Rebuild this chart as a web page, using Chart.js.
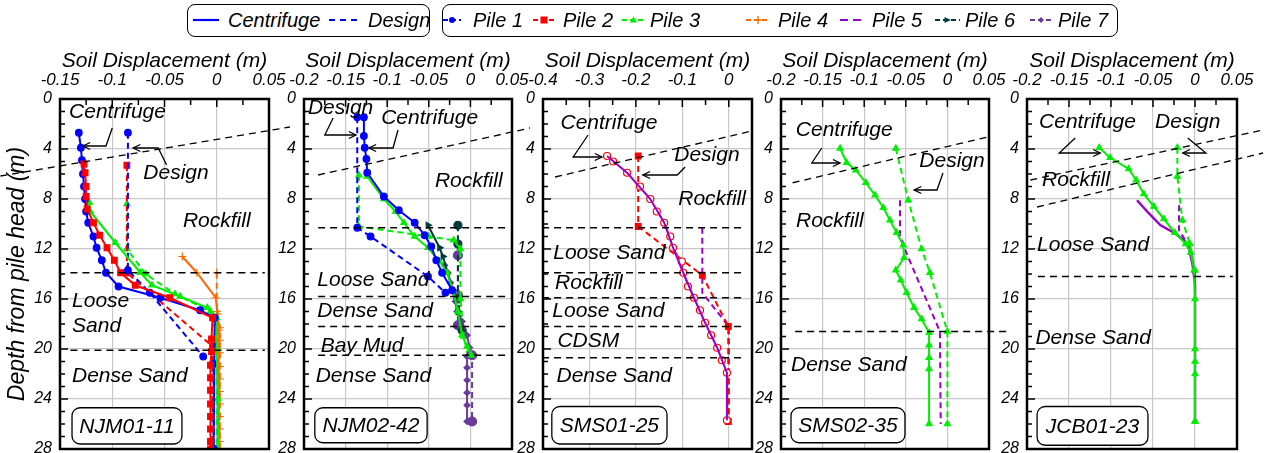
<!DOCTYPE html>
<html><head><meta charset="utf-8">
<script src="https://cdn.jsdelivr.net/npm/chart.js@4.4.1/dist/chart.umd.min.js"></script>
<style>
html,body{margin:0;padding:0;background:#fff;width:1265px;height:453px;overflow:hidden;position:relative;font-family:'Liberation Sans',Arial,sans-serif;}
.panel{position:absolute;top:40px;}
.lg{position:absolute;top:4px;height:33px;border:1.3px solid #000;border-radius:8px;box-sizing:border-box;}
.lt{position:absolute;top:8px;font:italic 20px 'Liberation Sans',Arial,sans-serif;line-height:24px;white-space:nowrap;color:#000;}
svg.ls{position:absolute;top:14px;overflow:visible;}
</style></head><body>
<script>
// ---------------- DATA ----------------
const pileNames = ['Pile 1','Pile 2','Pile 3','Pile 4','Pile 5','Pile 6','Pile 7'];
const panelNames = ['NJM01-11','NJM02-42','SMS01-25','SMS02-35','JCB01-23'];
const yTicks = [0,4,8,12,16,20,24,28];
const xTicksNJM01 = [-0.15,-0.1,-0.05,0,0.05];
const xTicksNJM02 = [-0.2,-0.15,-0.1,-0.05,0,0.05];
const xTicksSMS01 = [-0.4,-0.3,-0.2,-0.1,0];
const xTicksSMS02 = [-0.2,-0.15,-0.1,-0.05,0,0.05];
const xTicksJCB01 = [-0.2,-0.15,-0.1,-0.05,0,0.05];
const xRangeSMS01 = [-0.4,0.05];

// [soil displacement (m), depth (m)]
const NJM01_P1_CEN = [[-0.132,2.7],[-0.130,3.9],[-0.129,4.9],[-0.128,6.0],[-0.127,7.0],[-0.126,8.0],[-0.125,9.0],[-0.123,9.9],[-0.118,11.0],[-0.115,11.9],[-0.110,12.9],[-0.106,13.9],[-0.094,15.0],[-0.054,15.9],[-0.016,16.9],[-0.002,17.5],[-0.003,28.0]];
const NJM01_P1_DES = [[-0.085,2.7],[-0.085,13.7],[-0.064,15.5],[-0.013,20.6],[-0.003,21.2],[-0.003,28.0]];
const NJM01_P2_CEN = [[-0.127,5.2],[-0.126,5.9],[-0.125,7.0],[-0.125,7.8],[-0.124,8.8],[-0.118,9.9],[-0.112,10.9],[-0.105,11.9],[-0.098,12.9],[-0.092,13.9],[-0.078,14.9],[-0.045,15.9],[-0.004,17.5],[-0.005,19.2],[-0.005,20.2],[-0.006,21.3],[-0.006,22.3],[-0.006,23.3],[-0.006,24.4],[-0.006,25.4],[-0.006,26.4],[-0.006,27.4],[-0.006,28.0]];
const NJM01_P2_DES = [[-0.086,5.3],[-0.086,13.9],[-0.004,19.8],[-0.004,28.0]];
const NJM01_P3_CEN = [[-0.122,8.3],[-0.121,9.0],[-0.097,11.5],[-0.073,13.9],[-0.062,14.9],[-0.035,15.8],[-0.009,16.7],[0.000,17.5],[0.000,20.0],[0.001,24.0],[0.001,28.0]];
const NJM01_P3_DES = [[-0.086,8.4],[-0.086,12.0],[-0.068,14.0],[-0.040,15.6],[-0.006,17.0],[0.000,18.0],[0.000,28.0]];
const NJM01_P4_CEN = [[-0.033,12.6],[-0.019,13.9],[-0.001,15.9],[0.001,17.2],[0.002,18.5],[0.002,28.0]];
const NJM01_P4_DES = [[0.000,13.9],[0.000,17.0],[0.003,18.3],[0.003,19.3],[0.003,20.3],[0.003,21.4],[0.003,22.4],[0.003,23.4],[0.003,24.4],[0.003,25.4],[0.003,26.4],[0.003,27.4],[0.003,28.0]];

const NJM02_P1_CEN = [[-0.128,1.45],[-0.128,2.95],[-0.127,3.9],[-0.125,4.8],[-0.124,5.9],[-0.104,7.8],[-0.086,8.9],[-0.067,9.9],[-0.055,10.9],[-0.047,11.8],[-0.041,12.9],[-0.034,13.9],[-0.022,15.3]];
const NJM02_P1_DES = [[-0.136,1.45],[-0.136,10.3],[-0.120,11.0],[-0.051,14.2],[-0.030,15.5]];
const NJM02_P3_CEN = [[-0.124,6.2],[-0.104,8.0],[-0.090,9.0],[-0.080,9.9],[-0.067,11.0],[-0.051,11.9],[-0.037,13.0],[-0.028,13.9],[-0.021,15.3],[-0.015,17.0],[-0.010,18.9],[-0.004,19.8],[0.001,20.5]];
const NJM02_P3_DES = [[-0.134,6.1],[-0.134,10.2],[-0.050,11.0],[-0.020,11.3],[-0.012,12.0],[-0.012,16.0],[-0.008,19.0],[-0.003,20.5]];
const NJM02_P6_CEN = [[-0.051,10.1],[-0.037,11.9],[-0.033,12.6],[-0.021,15.3],[-0.015,17.0],[-0.010,18.5]];
const NJM02_P6_DES = [[-0.015,10.1],[-0.015,11.6],[-0.015,16.0],[-0.010,18.5]];
const NJM02_P7_CEN = [[-0.031,13.3],[-0.027,13.9],[-0.024,14.7],[-0.021,15.4],[-0.018,16.2],[-0.016,17.0],[-0.010,17.8],[-0.004,18.9],[-0.001,19.9],[-0.004,20.6],[-0.004,21.5],[-0.004,22.5],[-0.004,23.5],[-0.004,24.5],[-0.004,25.8]];
const NJM02_P7_DES = [[-0.015,12.5],[-0.015,15.7],[-0.015,18.1],[0.002,20.5],[0.002,25.8]];

const SMS01_P2_CEN = [[-0.262,4.56],[-0.249,5.0],[-0.219,5.9],[-0.191,7.0],[-0.169,8.0],[-0.155,9.0],[-0.139,9.9],[-0.126,11.0],[-0.120,11.9],[-0.101,13.0],[-0.098,13.9],[-0.088,15.0],[-0.075,15.9],[-0.062,16.9],[-0.051,17.9],[-0.038,18.9],[-0.025,19.9],[-0.015,20.9],[-0.004,21.9],[-0.004,25.7]];
const SMS01_P5_CEN = [[-0.262,4.56],[-0.219,5.9],[-0.169,8.0],[-0.139,9.9],[-0.120,11.9],[-0.098,13.9],[-0.075,15.9],[-0.051,17.9],[-0.025,19.9],[-0.004,21.9],[-0.004,25.7]];
const SMS01_P2_DES = [[-0.195,4.56],[-0.195,10.2],[-0.057,14.1],[-0.001,18.2],[-0.001,25.8]];
const SMS01_P5_DES = [[-0.057,10.3],[-0.057,15.5],[0.000,18.2],[0.000,25.7]];

const SMS02_P3_CEN = [[-0.129,3.95],[-0.121,5.1],[-0.110,5.7],[-0.098,6.7],[-0.087,7.7],[-0.077,8.7],[-0.069,9.7],[-0.061,10.7],[-0.053,11.7],[-0.052,12.7],[-0.062,13.7],[-0.056,14.5],[-0.049,15.5],[-0.040,16.7],[-0.031,17.6],[-0.022,18.7],[-0.022,19.7],[-0.022,20.7],[-0.022,21.6],[-0.022,26.0]];
const SMS02_P3_DES = [[-0.062,3.95],[-0.047,8.1],[-0.031,12.0],[-0.021,13.9],[0.000,18.6],[0.000,26.0]];
const SMS02_P5_DES = [[-0.057,8.1],[-0.057,10.9],[-0.050,12.2],[-0.009,18.6],[-0.008,26.0]];

const JCB01_P3_CEN = [[-0.114,3.9],[-0.101,4.7],[-0.079,5.6],[-0.070,6.5],[-0.061,7.6],[-0.049,8.6],[-0.037,9.6],[-0.024,10.7],[-0.011,11.6],[-0.005,12.3],[-0.001,13.7],[0.000,16.0],[0.000,20.0],[0.000,21.0],[0.000,22.0],[0.000,25.8]];
const JCB01_P3_DES = [[-0.021,3.9],[-0.021,6.2],[-0.015,9.7],[-0.006,11.6],[0.000,13.7],[0.000,25.8]];
const JCB01_P5_CEN = [[-0.069,8.1],[-0.057,9.0],[-0.041,10.1],[-0.025,10.7],[-0.013,11.3],[-0.007,12.0],[-0.003,13.2],[0.000,14.8],[0.000,25.8]];
const JCB01_P5_DES = [[-0.019,8.5],[-0.019,10.5],[-0.005,12.0],[0.000,14.0],[0.000,25.8]];

// ---------------- STYLES ----------------
const PILE_STYLE = [
  {color:'#0000ff', ps:'circle',   pr:3.3},
  {color:'#ff0000', ps:'rect',     pr:4},
  {color:'#00ee00', ps:'triangle', pr:3.5},
  {color:'#ff6a00', ps:'cross',    pr:4},
  {color:'#9900cc', ps:false,      pr:0},
  {color:'#003c3c', ps:'triangle', pr:3.5, rot:90},
  {color:'#6a3a9c', ps:'rectRot',  pr:3}
];

// ---------------- PANELS ----------------
const panels = [
  { xTicks:xTicksNJM01, xRange:[-0.15,0.05],
    series:[
      {pile:1,kind:'cen',data:NJM01_P2_CEN},{pile:0,kind:'cen',data:NJM01_P1_CEN},{pile:2,kind:'cen',data:NJM01_P3_CEN},{pile:3,kind:'cen',data:NJM01_P4_CEN},
      {pile:0,kind:'des',data:NJM01_P1_DES},{pile:1,kind:'des',data:NJM01_P2_DES},{pile:2,kind:'des',data:NJM01_P3_DES},{pile:3,kind:'des',data:NJM01_P4_DES}],
    deco:{ bounds:[[-0.207,6.16,0.070,2.24],[-0.140,13.9,0.046,13.9],[-0.140,20.1,0.046,20.1]],
      texts:[{t:'Centrifuge',x:-0.095,d:1.04},{t:'Design',x:-0.039,d:5.9},{t:'Rockfill',x:0.0,d:9.8},
             {t:'Loose',x:-0.1385,d:16.2,al:'left'},{t:'Sand',x:-0.1385,d:18.2,al:'left'},{t:'Dense Sand',x:-0.1385,d:22.2,al:'left'}],
      arrows:[[[-0.100,2.32],[-0.106,3.76],[-0.128,3.76]],[[-0.048,5.28],[-0.056,3.92],[-0.080,3.92]]],
      box:[-0.1385,24.7,-0.0333,27.6] } },
  { xTicks:xTicksNJM02, xRange:[-0.2,0.05],
    series:[
      {pile:0,kind:'cen',data:NJM02_P1_CEN},{pile:2,kind:'cen',data:NJM02_P3_CEN},{pile:5,kind:'cen',data:NJM02_P6_CEN},{pile:6,kind:'cen',data:NJM02_P7_CEN},
      {pile:0,kind:'des',data:NJM02_P1_DES},{pile:2,kind:'des',data:NJM02_P3_DES},{pile:5,kind:'des',data:NJM02_P6_DES,ps:'circle',pr:4},{pile:6,kind:'des',data:NJM02_P7_DES,ps:'circle',pr:4.5}],
    deco:{ bounds:[[-0.183,6.08,0.0716,2.32],[-0.183,10.3,0.044,10.3],[-0.183,15.8,0.044,15.8],[-0.183,18.2,0.044,18.2],[-0.183,20.5,0.044,20.5]],
      texts:[{t:'Design',x:-0.156,d:0.75},{t:'Centrifuge',x:-0.049,d:1.5},{t:'Rockfill',x:-0.002,d:6.6},
             {t:'Loose Sand',x:-0.184,d:14.5,al:'left'},{t:'Dense Sand',x:-0.184,d:17.0,al:'left'},{t:'Bay Mud',x:-0.180,d:19.8,al:'left'},{t:'Dense Sand',x:-0.186,d:22.2,al:'left'}],
      arrows:[[[-0.165,1.52],[-0.175,2.88],[-0.1375,2.88]],[[-0.087,2.48],[-0.093,3.92],[-0.122,3.92]]],
      box:[-0.187,24.7,-0.052,27.5] } },
  { xTicks:xTicksSMS01, xRange:xRangeSMS01,
    series:[
      {pile:4,kind:'cen',data:SMS01_P5_CEN,bw:2},{pile:1,kind:'cen',data:SMS01_P2_CEN,ps:'circle',pr:3.5,pfill:'#ffffff',bw:1},
      {pile:1,kind:'des',data:SMS01_P2_DES},{pile:4,kind:'des',data:SMS01_P5_DES}],
    deco:{ bounds:[[-0.374,6.24,0.05,2.56],[-0.402,10.3,0.031,10.3],[-0.402,13.9,0.031,13.9],[-0.402,15.9,0.031,15.9],[-0.402,18.2,0.031,18.2],[-0.402,20.7,0.031,20.7]],
      texts:[{t:'Centrifuge',x:-0.258,d:1.9},{t:'Design',x:-0.047,d:4.5},{t:'Rockfill',x:-0.036,d:8.0},
             {t:'Loose Sand',x:-0.378,d:12.3,al:'left'},{t:'Rockfill',x:-0.374,d:14.7,al:'left'},{t:'Loose Sand',x:-0.380,d:17.0,al:'left'},{t:'CDSM',x:-0.369,d:19.4,al:'left'},{t:'Dense Sand',x:-0.371,d:22.2,al:'left'}],
      arrows:[[[-0.303,2.88],[-0.335,4.64],[-0.273,4.64]],[[-0.094,5.44],[-0.111,6.08],[-0.185,6.08]]],
      box:[-0.381,24.6,-0.133,27.6] } },
  { xTicks:xTicksSMS02, xRange:[-0.2,0.05],
    series:[
      {pile:2,kind:'cen',data:SMS02_P3_CEN},{pile:2,kind:'des',data:SMS02_P3_DES},{pile:4,kind:'des',data:SMS02_P5_DES}],
    deco:{ bounds:[[-0.186,6.7,0.051,3.0],[-0.183,18.6,0.075,18.6]],
      texts:[{t:'Centrifuge',x:-0.124,d:2.5},{t:'Design',x:0.0055,d:5.0},{t:'Rockfill',x:-0.182,d:9.8,al:'left'},{t:'Dense Sand',x:-0.188,d:21.3,al:'left'}],
      arrows:[[[-0.151,3.92],[-0.163,5.12],[-0.129,5.12]],[[-0.0053,5.92],[-0.0125,7.28],[-0.040,7.28]]],
      box:[-0.188,24.7,-0.051,27.5] } },
  { xTicks:xTicksJCB01, xRange:[-0.2,0.05],
    series:[
      {pile:2,kind:'cen',data:JCB01_P3_CEN},{pile:4,kind:'cen',data:JCB01_P5_CEN,bw:2.5},{pile:2,kind:'des',data:JCB01_P3_DES},{pile:4,kind:'des',data:JCB01_P5_DES}],
    deco:{ bounds:[[-0.196,6.48,0.081,2.48],[-0.188,8.64,0.081,4.32],[-0.187,14.2,0.045,14.2]],
      texts:[{t:'Centrifuge',x:-0.128,d:1.84},{t:'Design',x:-0.0086,d:1.84},{t:'Rockfill',x:-0.182,d:6.5,al:'left'},{t:'Loose Sand',x:-0.188,d:11.7,al:'left'},{t:'Dense Sand',x:-0.190,d:19.1,al:'left'}],
      arrows:[[[-0.1426,3.12],[-0.1617,4.32],[-0.1127,4.32]],[[-0.0086,3.12],[0.013,4.32],[-0.0146,4.32]]],
      box:[-0.188,24.6,-0.056,27.7] } }
];

// ---------------- LAYOUT ----------------
const PANEL_LEFT = [60,304,543,781,1027];
const PANEL_W = [209,208,209,208,210];
const AXW = 60, EXTRA = 32, TOPH = 59, CH = 440, PLOTH = 350;
const FONT = "'Liberation Sans', Arial, Helvetica, sans-serif";

Chart.defaults.font.family = FONT;
Chart.defaults.font.style = 'italic';
Chart.defaults.color = '#000';

const deco = {
  id:'deco',
  afterDraw(chart, args, o){
    const {ctx, chartArea:a} = chart; const xs = chart.scales.x, ys = chart.scales.y;
    const X = v => xs.getPixelForValue(v), Y = d => ys.getPixelForValue(d);
    ctx.save();
    // layer boundaries
    ctx.strokeStyle = '#000'; ctx.lineWidth = 1.3; ctx.setLineDash([7,5]);
    for (const [x1,d1,x2,d2] of o.bounds){ ctx.beginPath(); ctx.moveTo(X(x1),Y(d1)); ctx.lineTo(X(x2),Y(d2)); ctx.stroke(); }
    ctx.setLineDash([]);
    // arrows
    ctx.lineWidth = 1.3;
    for (const pts of o.arrows){
      ctx.beginPath(); pts.forEach(([v,d],k)=>{ k? ctx.lineTo(X(v),Y(d)) : ctx.moveTo(X(v),Y(d)); }); ctx.stroke();
      const [v1,d1] = pts[pts.length-2], [v2,d2] = pts[pts.length-1];
      const ex = X(v2), ey = Y(d2), ang = Math.atan2(ey-Y(d1), ex-X(v1));
      ctx.beginPath();
      ctx.moveTo(ex - 8*Math.cos(ang-0.45), ey - 8*Math.sin(ang-0.45));
      ctx.lineTo(ex, ey);
      ctx.lineTo(ex - 8*Math.cos(ang+0.45), ey - 8*Math.sin(ang+0.45));
      ctx.stroke();
    }
    // texts
    ctx.fillStyle = '#000'; ctx.font = 'italic 21px ' + FONT; ctx.textBaseline = 'middle';
    for (const t of o.texts){ ctx.textAlign = t.al || 'center'; ctx.fillText(t.t, X(t.x), Y(t.d)); }
    // name box
    const [bx1,bd1,bx2,bd2] = o.box; const l = X(bx1), r = X(bx2), tp = Y(bd1), bt = Y(bd2);
    ctx.fillStyle = '#fff'; ctx.beginPath(); ctx.roundRect(l,tp,r-l,bt-tp,8); ctx.fill();
    ctx.lineWidth = 1.3; ctx.stroke();
    ctx.fillStyle = '#000'; ctx.textAlign = 'center'; ctx.fillText(o.name, (l+r)/2, (tp+bt)/2+1);
    // frame
    ctx.lineWidth = 2.5; ctx.strokeRect(a.left, a.top, a.right-a.left, a.bottom-a.top);
    // inward ticks
    ctx.lineWidth = 1.5;
    const step = o.xTicks[1]-o.xTicks[0];
    for (let k=0;;k++){ const v = o.xTicks[0] + k*step/2; if (v > xs.max + 1e-9) break;
      const px = X(v); const len = k%2===0 ? 8 : 6;
      ctx.beginPath(); ctx.moveTo(px,a.top); ctx.lineTo(px,a.top+len); ctx.stroke(); }
    for (let d=0; d<=28; d++){ const py = Y(d); const len = d%4===0 ? 8 : 5;
      ctx.beginPath(); ctx.moveTo(a.left,py); ctx.lineTo(a.left+len,py); ctx.stroke(); }
    ctx.restore();
  }
};

function makeDs(s){
  const st = PILE_STYLE[s.pile];
  const ps = s.ps !== undefined ? s.ps : st.ps;
  return {
    data: s.data.map(([x,d]) => ({x:x, y:d})),
    showLine: true, tension: 0,
    borderColor: st.color, backgroundColor: st.color,
    borderWidth: s.bw || 2, borderDash: s.kind==='des' ? [6,4] : [],
    pointStyle: ps || 'circle', pointRadius: ps ? (s.pr || st.pr) : 0,
    pointRotation: st.rot || 0,
    pointBackgroundColor: s.pfill || st.color, pointBorderColor: st.color, pointBorderWidth: 1.2
  };
}
const fmt = v => Math.abs(v) < 1e-9 ? '0' : String(parseFloat(v.toFixed(3)));

panels.forEach((p,i) => {
  const w = AXW + PANEL_W[i] + EXTRA;
  const div = document.createElement('div'); div.className = 'panel'; div.style.left = (PANEL_LEFT[i]-AXW)+'px';
  const cv = document.createElement('canvas'); cv.width = w; cv.height = CH; cv.style.width = w+'px'; cv.style.height = CH+'px';
  div.appendChild(cv); document.body.appendChild(div);
  const gridOpt = {color:'#c8c8c8', lineWidth:1.2, drawTicks:false};
  new Chart(cv, {
    type:'scatter',
    data:{datasets: p.series.map(makeDs)},
    options:{
      responsive:false, animation:false, devicePixelRatio:1,
      layout:{padding:{left:0, top:0, right:EXTRA, bottom:CH-TOPH-PLOTH}},
      plugins:{legend:{display:false}, tooltip:{enabled:false}, deco:Object.assign({name:panelNames[i], xTicks:p.xTicks}, p.deco)},
      scales:{
        x:{type:'linear', position:'top', min:p.xRange[0], max:p.xRange[1],
           afterBuildTicks: s => { s.ticks = p.xTicks.map(v => ({value:v})); },
           afterFit: s => { s.height = TOPH; },
           ticks:{font:{size:17, style:'italic'}, padding:9, autoSkip:false, maxRotation:0, minRotation:0, callback: v => fmt(v), color:'#000'},
           grid:gridOpt, border:{display:false},
           title:{display:true, text:'Soil Displacement (m)', font:{size:21, style:'italic'}, padding:{top:9, bottom:0}, color:'#000'}},
        y:{type:'linear', reverse:true, min:0, max:28,
           afterBuildTicks: s => { s.ticks = yTicks.map(v => ({value:v})); },
           afterFit: s => { s.width = AXW; },
           ticks:{font:{size:16, style:'italic'}, padding:8, autoSkip:false, color:'#000'},
           grid:gridOpt, border:{display:false},
           title: i===0 ? {display:true, text:'Depth from pile head (m)', font:{size:23, style:'italic'}, padding:{top:4, bottom:0}, color:'#000'} : {display:false}}
      }
    },
    plugins:[deco]
  });
});

// ---------------- LEGEND ----------------
function el(tag, cls, css){ const e = document.createElement(tag); if (cls) e.className = cls; Object.assign(e.style, css||{}); document.body.appendChild(e); return e; }
el('div','lg',{left:'187px', width:'243px'});
el('div','lg',{left:'442px', width:'676px'});
const NS = 'http://www.w3.org/2000/svg';
function sample(x, w, color, dash, marker, rot){
  const svg = document.createElementNS(NS,'svg'); svg.setAttribute('class','ls'); svg.setAttribute('width',w); svg.setAttribute('height',12);
  svg.style.left = x+'px';
  const ln = document.createElementNS(NS,'line');
  ln.setAttribute('x1',0); ln.setAttribute('x2',w); ln.setAttribute('y1',6); ln.setAttribute('y2',6);
  ln.setAttribute('stroke',color); ln.setAttribute('stroke-width',2.2); if (dash) ln.setAttribute('stroke-dasharray',dash);
  svg.appendChild(ln);
  const c = w/2; let m = null;
  if (marker === 'circle'){ m = document.createElementNS(NS,'circle'); m.setAttribute('cx',c); m.setAttribute('cy',6); m.setAttribute('r',3); }
  else if (marker === 'rect'){ m = document.createElementNS(NS,'rect'); m.setAttribute('x',c-3.5); m.setAttribute('y',2.5); m.setAttribute('width',7); m.setAttribute('height',7); }
  else if (marker === 'triangle'){ m = document.createElementNS(NS,'polygon');
    m.setAttribute('points', rot ? `${c-3},3 ${c+3.5},6 ${c-3},9` : `${c},2.5 ${c+3.5},8.5 ${c-3.5},8.5`); }
  else if (marker === 'cross'){ m = document.createElementNS(NS,'path'); m.setAttribute('d',`M${c-4},6H${c+4}M${c},2V10`); m.setAttribute('stroke',color); m.setAttribute('stroke-width',1.3); }
  else if (marker === 'rectRot'){ m = document.createElementNS(NS,'polygon'); m.setAttribute('points',`${c},3 ${c+3},6 ${c},9 ${c-3},6`); }
  if (m){ m.setAttribute('fill',color); svg.appendChild(m); }
  document.body.appendChild(svg);
}
function ltext(x, t){ const e = el('div','lt',{left:x+'px'}); e.textContent = t; }
sample(193, 26, '#0000ff', null, null); ltext(228, 'Centrifuge');
sample(329, 30, '#0000ff', '6,5', null); ltext(368, 'Design');
const LEG_SX = [443,533,622,746,840,935,1030];
const LEG_SW = [18,22,23,24,23,25,22];
const LEG_TX = [473,563,650,778,872,965,1058];
pileNames.forEach((n,k) => {
  const st = PILE_STYLE[k];
  sample(LEG_SX[k], LEG_SW[k], st.color, k===4 ? '8,5' : '5,3', st.ps, st.rot);
  ltext(LEG_TX[k], n);
});
</script>
</body></html>
